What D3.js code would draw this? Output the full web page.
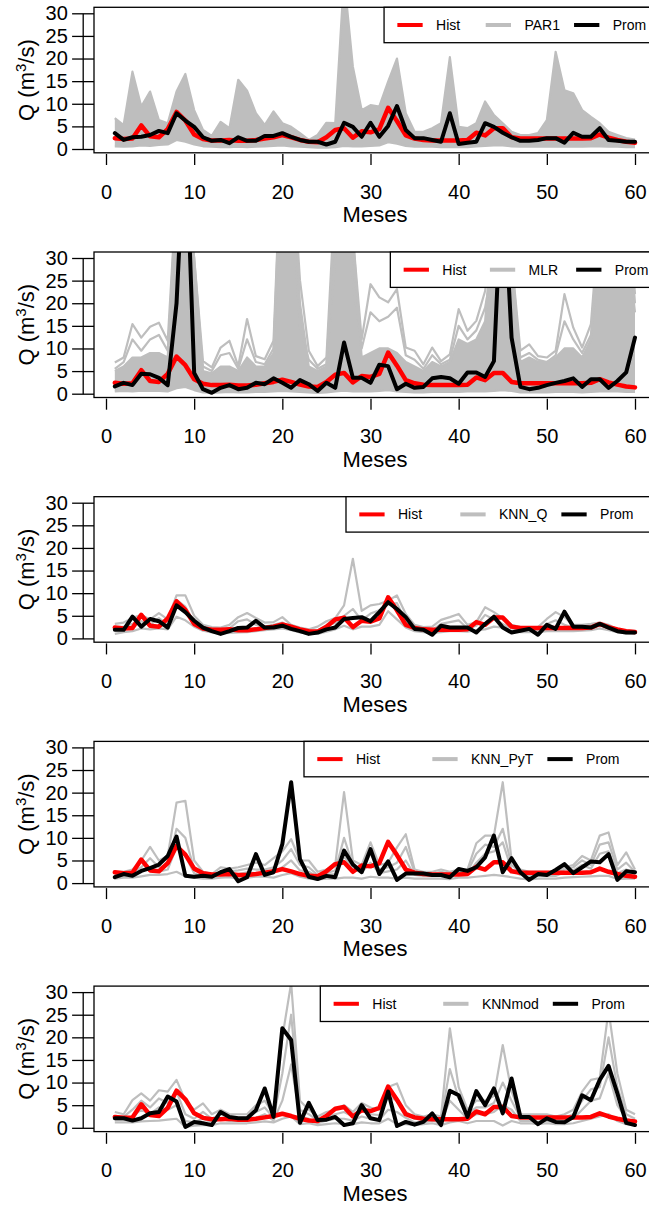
<!DOCTYPE html>
<html>
<head>
<meta charset="utf-8">
<script src="https://cdn.jsdelivr.net/npm/d3@7"></script>
<style>
  body { margin: 0; background: #fff; }
  text { font-family: "Liberation Sans", Arial, Helvetica, sans-serif; fill: #000; }
</style>
</head>
<body>
<svg id="chart" width="649" height="1212"></svg>
<script>
// ---- data: monthly flows Q (m3/s), months 1..60 ----
const months = d3.range(1, 61);
const xTicks = [0, 10, 20, 30, 40, 50, 60];
const yTicks = [0, 5, 10, 15, 20, 25, 30];
const seriesNames = ["Hist", null, "Prom"];
const modelNames = ["PAR1", "MLR", "KNN_Q", "KNN_PyT", "KNNmod"];

// historical mean flow (same in every panel)
const hist = [2.4,2.2,2.3,5.2,2.8,2.6,4.4,8.2,6.3,3.2,2.2,1.9,1.9,2.0,1.8,1.8,2.0,2.3,2.6,3.1,2.6,2.0,1.6,1.5,2.6,4.2,4.6,2.5,3.9,3.7,4.4,9.1,6.2,3.0,2.3,2.0,1.9,1.9,1.9,1.9,2.0,3.6,3.0,4.6,4.6,2.6,2.3,2.3,2.3,2.3,2.3,2.3,2.3,2.3,2.4,3.2,2.5,2.0,1.6,1.4];

// PAR1
const parProm = [3.5,2.0,2.6,2.7,3.1,4.0,3.5,7.9,6.3,4.9,2.6,1.8,2.0,1.3,2.6,1.8,1.8,2.9,2.9,3.5,2.7,2.0,1.6,1.6,1.0,1.6,5.8,4.9,2.7,5.8,2.7,5.1,9.5,4.2,2.4,2.4,2.0,1.6,7.9,1.1,1.4,1.6,5.7,4.9,3.6,2.6,1.8,1.8,2.0,2.4,2.4,1.4,3.6,2.7,2.7,4.6,2.0,1.8,1.6,1.6];
const parHigh = [6.8,5.3,17.1,9.4,12.7,6.4,5.7,12.7,16.6,8.6,4.2,2.9,6.0,4.6,15.3,12.9,7.9,5.3,8.3,5.7,4.9,3.5,2.0,3.1,5.8,5.7,38,18.2,8.6,9.7,9.4,14.9,20.0,7.9,3.8,3.8,4.6,5.7,20.3,4.9,4.6,5.7,10.5,7.5,5.7,3.8,3.1,3.1,3.5,6.4,21.5,13.0,12.3,8.6,7.1,5.7,3.8,3.1,2.4,2.1];
const parLow = [0.6,0.5,0.6,0.8,0.7,0.9,1.0,2.0,1.6,1.0,0.6,0.5,0.4,0.4,0.5,0.4,0.5,0.6,0.7,0.8,0.6,0.5,0.4,0.3,0.3,0.4,0.7,0.6,0.6,0.7,0.8,1.5,1.2,0.7,0.5,0.5,0.5,0.4,0.4,0.4,0.4,0.6,0.7,0.8,0.8,0.6,0.5,0.5,0.5,0.5,0.5,0.5,0.5,0.5,0.6,0.6,0.5,0.5,0.4,0.4];

// MLR
const mlrProm = [1.6,2.4,1.9,4.4,4.3,3.5,1.9,20,60,4.6,1.0,0.2,1.3,1.9,1.0,1.3,2.4,2.1,3.4,2.4,1.3,3.0,2.1,0.6,2.4,1.3,11.3,3.5,3.5,2.4,6.4,6.1,1.0,2.2,1.3,1.5,3.4,3.7,3.4,2.2,4.7,4.7,3.7,7.2,50,12.4,1.5,1.0,1.3,1.9,2.4,2.8,3.4,1.5,3.2,3.2,1.3,2.8,4.7,12.4];
const mlrHigh = [6.9,8.0,15.4,12.4,14.8,15.7,11.7,45,50,30,7.2,5.8,10.2,11.7,6.1,16.5,8.3,7.6,11.7,60,55,25.1,9.5,6.1,8.0,45,50,35,12,24.2,21.3,20.2,23.1,10.2,9.5,6.5,10.2,7.2,8.7,18.7,13.9,16.1,22.7,40,55,30,9.5,10.9,8.3,8.0,9.5,22.0,14.6,10.2,15.4,40,50,50,45,22.0];
const mlrMid = [5.5,7.0,12.0,9.5,12.0,13.0,9.5,40,45,20,6.0,5.0,8.5,9.0,5.5,12.0,7.0,6.5,10.0,50,45,15.0,7.5,5.5,6.5,30,45,25,10,18.0,16.0,17.0,19.0,8.5,7.5,5.5,8.5,6.5,7.5,15.0,12.0,14.0,19.0,30,45,20,8.0,9.0,7.5,7.0,8.5,16.0,12.0,9.0,13.0,30,45,45,35,18.0];
const mlrDense = [5.0,6.0,8.0,8.0,9.0,9.0,8.0,45,50,30,5.0,4.5,6.0,6.0,5.0,8.0,6.0,6.0,9.0,60,55,20,6.0,5.0,6.0,40,50,35,8.0,9.0,10.0,10.0,9.0,7.0,6.0,5.0,7.0,6.0,7.0,12.0,11.0,12.0,16.0,40,55,30,7.0,8.0,7.0,7.0,8.0,10.0,10.0,8.0,12.0,40,50,50,45,20.0];
const mlrLow = [0.5,0.6,0.5,0.7,0.6,0.6,0.5,1.2,1.5,0.8,0.3,0.2,0.3,0.4,0.3,0.3,0.4,0.4,0.5,0.6,0.5,0.4,0.3,0.2,0.3,0.5,0.7,0.5,0.5,0.5,0.6,0.8,0.5,0.4,0.3,0.3,0.4,0.4,0.4,0.4,0.5,0.5,0.5,0.6,0.8,0.6,0.3,0.3,0.3,0.3,0.4,0.4,0.4,0.3,0.4,0.5,0.5,0.5,0.4,0.4];

// KNN_Q
const knnqProm = [1.9,1.9,4.8,2.6,4.3,3.8,2.4,7.3,5.8,3.9,2.4,1.6,1.0,1.6,2.3,2.4,3.9,2.4,2.4,2.8,2.1,1.6,1.0,1.3,2.0,2.4,4.3,4.5,4.7,3.8,5.8,8.0,6.5,4.7,2.1,1.9,0.8,2.8,2.4,2.4,2.4,1.3,3.2,4.8,2.4,1.3,1.7,2.1,0.8,3.0,2.1,5.9,2.6,2.6,2.4,3.2,2.4,1.6,1.3,1.3];
const knnqHigh = [3.2,3.5,4.5,5.2,4.2,5.6,4.2,9.5,9.5,5.0,3.0,2.5,2.4,3.0,4.7,5.6,4.5,3.5,3.6,4.7,3.0,2.4,2.0,2.6,3.8,4.5,7.3,17.6,6.1,7.3,7.6,8.4,9.5,5.4,3.0,2.5,2.6,4.1,4.7,5.4,3.0,3.6,6.9,5.8,4.5,3.0,2.5,2.4,2.5,4.3,5.8,4.7,3.0,3.0,3.2,3.5,3.0,2.0,1.8,1.6];
const knnqMid = [2.5,2.6,3.2,3.8,3.0,4.5,3.0,8.5,7.0,3.5,2.2,1.8,1.7,2.2,3.8,4.2,3.0,2.6,3.0,3.5,2.4,1.8,1.5,1.8,2.8,3.4,5.0,6.5,4.0,5.5,6.2,7.5,7.8,3.8,2.2,1.9,1.8,3.2,3.6,4.0,2.2,2.8,5.2,4.2,3.2,2.2,1.9,1.8,1.9,3.2,4.0,3.0,2.4,2.4,2.6,3.0,2.5,1.7,1.5,1.3];
const knnqLow = [1.0,1.4,1.6,2.2,2.0,2.2,2.0,4.8,4.0,2.6,1.7,1.3,1.1,1.2,1.3,1.4,1.6,1.8,2.0,2.2,1.8,1.3,1.0,1.0,1.5,2.0,2.8,2.0,2.6,2.6,3.0,6.0,4.2,2.4,1.6,1.4,1.2,1.4,1.6,1.6,1.5,1.8,2.0,2.6,2.4,1.6,1.4,1.4,1.4,1.6,1.6,1.6,1.6,1.7,1.8,2.2,1.8,1.4,1.1,1.0];

// KNN_PyT
const pytProm = [1.3,2.0,1.6,2.7,3.3,4.1,6.0,10.3,1.6,1.4,1.6,1.4,2.4,3.1,0.4,1.3,6.4,1.8,2.4,8.6,22.3,5.3,1.4,0.9,1.6,1.3,7.2,4.1,2.4,7.5,2.0,4.8,0.7,2.1,2.1,2.1,1.8,1.8,1.3,3.1,2.7,3.5,5.7,10.5,2.4,5.5,2.4,0.7,2.0,1.8,2.9,4.2,2.2,3.5,4.8,4.6,6.4,0.7,2.6,2.4];
const pytHigh = [2.5,2.5,3.0,5.0,8.0,5.0,6.0,17.8,18.2,5.0,2.5,2.0,3.5,3.2,3.5,4.0,4.5,4.0,5.5,7.0,9.7,5.0,5.0,2.5,3.0,4.0,20.1,5.0,4.0,9.0,4.0,4.5,7.9,10.8,3.0,2.5,2.5,3.0,2.5,3.0,3.0,8.8,10.5,10.5,22.3,5.0,3.0,2.5,2.5,2.5,2.5,3.5,4.0,6.0,5.0,10.5,11.2,4.0,6.8,3.0];
const pytMidA = [1.8,2.0,2.4,3.5,5.5,3.5,4.0,12.0,10.0,3.0,1.8,1.5,2.5,2.6,2.8,3.2,3.0,3.0,3.5,5.0,7.5,4.0,3.5,1.8,2.2,2.8,10.0,4.0,3.0,6.5,3.0,3.5,4.5,8.0,2.4,2.0,2.0,2.5,2.0,2.5,2.5,6.5,8.5,8.0,12.0,4.0,2.4,2.0,2.0,2.0,2.0,3.0,3.5,5.0,4.0,8.5,9.0,3.0,4.5,2.5];
const pytMidB = [1.5,1.6,2.0,2.5,3.5,2.5,3.0,8.0,6.0,2.2,1.4,1.3,2.0,2.0,2.0,2.4,2.2,2.2,2.5,3.5,5.0,2.8,2.5,1.4,1.8,2.0,6.0,3.0,2.4,4.5,2.2,2.6,3.0,5.0,1.8,1.6,1.6,2.0,1.6,2.0,2.0,4.5,6.5,7.0,9.0,3.0,1.8,1.6,1.6,1.6,1.6,2.4,2.8,4.0,3.2,6.5,7.0,2.2,3.0,2.0];
const pytLow = [1.0,1.2,1.2,1.5,1.8,1.8,2.0,2.5,1.5,1.2,1.0,1.0,1.2,1.3,1.0,1.2,1.4,1.4,1.2,1.8,2.2,1.4,1.0,0.8,1.0,1.0,1.2,1.2,1.0,1.4,1.2,1.2,1.0,1.2,1.0,1.0,1.0,1.0,0.9,1.2,1.2,1.4,1.6,1.8,1.6,1.3,1.0,0.8,1.0,1.0,1.0,1.2,1.3,1.4,1.5,1.6,1.6,0.9,1.0,1.0];

// KNNmod
const modProm = [2.1,2.1,1.6,2.1,3.2,3.5,6.9,5.8,0.2,1.3,1.0,0.6,3.5,2.4,2.1,2.1,3.9,8.7,2.4,22.0,19.4,1.1,5.5,1.7,1.8,2.4,0.6,1.0,5.0,2.1,1.7,8.0,0.4,1.3,0.7,1.3,3.2,0.6,8.2,7.2,2.4,8.1,5.0,8.7,3.2,10.9,2.4,2.4,0.8,2.1,1.3,1.2,2.4,7.2,6.1,10.6,13.7,7.6,1.1,0.6];
const modHigh = [3.5,3.0,6.1,7.6,6.0,8.3,8.0,10.6,6.0,4.0,5.4,3.0,4.0,3.0,3.0,3.0,5.0,6.0,3.0,20.0,32.0,6.0,4.0,2.5,3.5,4.0,5.0,3.5,5.5,4.5,4.0,9.0,9.8,5.0,3.0,2.5,3.0,2.5,22.0,9.0,4.0,6.0,6.0,7.0,18.3,8.0,3.0,3.0,3.0,3.0,2.5,3.0,4.0,8.0,10.6,11.0,26.0,12.0,4.0,3.0];
const modMidA = [2.5,2.4,4.0,6.0,4.5,6.5,5.5,8.0,3.0,2.0,3.5,2.0,3.0,2.2,2.2,2.2,3.5,4.5,2.2,12.0,25.0,4.0,3.0,1.6,2.5,3.0,3.5,2.5,4.0,3.0,2.8,7.0,6.0,3.5,2.0,1.8,2.2,1.8,13.0,6.5,3.0,4.5,4.5,5.5,10.0,6.0,2.2,2.2,2.0,2.2,1.8,2.2,3.0,6.0,8.5,9.0,20.0,9.0,3.0,2.0];
const modMidB = [1.8,1.8,2.5,4.0,3.0,4.5,4.0,5.0,1.5,1.2,2.0,1.2,2.0,1.5,1.5,1.5,2.2,3.0,1.6,6.0,14.0,2.5,2.0,1.0,1.6,2.0,2.0,1.6,2.5,2.0,1.8,4.0,3.5,2.2,1.2,1.2,1.6,1.2,6.0,4.0,2.0,3.0,3.0,3.5,5.0,4.0,1.5,1.5,1.3,1.5,1.2,1.5,2.0,4.0,6.0,6.5,12.0,5.0,2.0,1.2];
const modLow = [1.2,1.2,1.2,1.4,1.5,1.6,1.8,2.0,0.2,0.5,0.6,0.6,1.0,1.0,1.0,1.0,1.2,1.4,1.2,2.0,2.5,0.8,1.0,0.6,0.8,1.0,0.8,0.8,1.2,1.0,1.0,2.0,0.8,0.8,0.6,0.8,1.0,0.6,1.2,1.5,1.0,1.5,1.5,1.5,0.5,1.5,1.0,1.0,0.8,1.0,0.8,0.8,1.0,1.5,2.0,2.5,3.0,1.5,0.8,0.6];

// panel definitions: band = dense part of the ensemble drawn as a filled envelope
const panels = [
  { model: modelNames[0], prom: parProm,  band: [parLow, parHigh], members: [parHigh, parLow] },
  { model: modelNames[1], prom: mlrProm,  band: [mlrLow, mlrDense], members: [mlrHigh, mlrMid, mlrDense, mlrLow] },
  { model: modelNames[2], prom: knnqProm, band: null, members: [knnqHigh, knnqMid, knnqLow] },
  { model: modelNames[3], prom: pytProm,  band: null, members: [pytHigh, pytMidA, pytMidB, pytLow] },
  { model: modelNames[4], prom: modProm,  band: null, members: [modHigh, modMidA, modMidB, modLow] }
];

// ---- layout ----
const svg = d3.select("#chart");
const panelStep = 244.7;
const boxL = 94, boxR = 656;
const boxTop = 7.3, boxBot = 152.8;
const RED = "#FF0000", GREY = "#BEBEBE", BLACK = "#000000";

const x = d3.scaleLinear().domain([0, 60]).range([106, 635]);

panels.forEach((p, i) => {
  const off = i * panelStep;
  const g = svg.append("g").attr("transform", `translate(0,${off})`);
  const y = d3.scaleLinear().domain([0, 30]).range([149, 13.3]);

  const clipId = "clip" + i;
  g.append("clipPath").attr("id", clipId)
    .append("rect").attr("x", boxL).attr("y", boxTop)
    .attr("width", boxR - boxL).attr("height", boxBot - boxTop);

  const plot = g.append("g").attr("clip-path", `url(#${clipId})`);
  const line = d3.line().x((d, k) => x(months[k])).y(d => y(d));

  // ensemble envelope
  if (p.band) {
    const area = d3.area()
      .x((d, k) => x(months[k]))
      .y0((d, k) => y(p.band[0][k]))
      .y1((d, k) => y(p.band[1][k]));
    plot.append("path").datum(months).attr("d", area).attr("fill", GREY);
  }
  plot.selectAll("path.member").data(p.members).join("path")
    .attr("class", "member")
    .attr("d", line)
    .attr("fill", "none").attr("stroke", GREY).attr("stroke-width", 2.2)
    .attr("stroke-linejoin", "round");

  plot.append("path").datum(hist).attr("d", line)
    .attr("fill", "none").attr("stroke", RED).attr("stroke-width", 4.5)
    .attr("stroke-linejoin", "round").attr("stroke-linecap", "round");
  plot.append("path").datum(p.prom).attr("d", line)
    .attr("fill", "none").attr("stroke", BLACK).attr("stroke-width", 4)
    .attr("stroke-linejoin", "round").attr("stroke-linecap", "round");

  // frame
  g.append("rect").attr("x", boxL).attr("y", boxTop)
    .attr("width", boxR - boxL).attr("height", boxBot - boxTop)
    .attr("fill", "none").attr("stroke", BLACK).attr("stroke-width", 1.3);

  // y axis
  const ya = g.append("g").attr("transform", "translate(82.7,0)")
    .call(d3.axisLeft(y).tickValues(yTicks).tickSize(10.6).tickSizeOuter(0).tickPadding(4.3));
  ya.select(".domain").attr("stroke-width", 1.3);
  ya.selectAll(".tick line").attr("x1", boxL - 82.7).attr("stroke-width", 1.3);
  ya.selectAll(".tick text").attr("font-size", 20)
    .attr("font-family", '"Liberation Sans", Arial, sans-serif').attr("fill", BLACK);

  // x axis
  const xa = g.append("g").attr("transform", "translate(0,154)")
    .call(d3.axisBottom(x).tickValues(xTicks).tickSize(11).tickPadding(19.5));
  xa.select(".domain").remove();
  xa.selectAll(".tick line").attr("stroke-width", 1.3);
  xa.selectAll(".tick text").attr("font-size", 20)
    .attr("font-family", '"Liberation Sans", Arial, sans-serif').attr("fill", BLACK);

  // axis titles
  g.append("text").attr("x", (boxL + boxR) / 2).attr("y", 222.3)
    .attr("text-anchor", "middle").attr("font-size", 22).text("Meses");
  const yl = g.append("text")
    .attr("transform", `translate(33.5,${(boxTop + boxBot) / 2}) rotate(-90)`)
    .attr("text-anchor", "middle").attr("font-size", 22);
  yl.append("tspan").text("Q (m");
  yl.append("tspan").attr("font-size", 15).attr("dy", -8).text("3");
  yl.append("tspan").attr("dy", 8).text("/s)");

  // legend (horizontal, top right)
  const labels = [seriesNames[0], p.model, seriesNames[2]];
  const colors = [RED, GREY, BLACK];
  const lg = g.append("g");
  const box = lg.append("rect");
  const tmp = lg.selectAll("text.tmp").data(labels).join("text")
    .attr("font-size", 14).text(d => d);
  const maxw = d3.max(tmp.nodes(), n => n.getComputedTextLength());
  tmp.remove();
  const colW = maxw + 52.8;
  const textEnd = 648.3;
  const starts = labels.map((d, k) => textEnd - maxw - (labels.length - 1 - k) * colW);
  const lh = 35.4, cy = boxTop + lh / 2;
  box.attr("x", starts[0] - 52).attr("y", boxTop)
    .attr("width", boxR - (starts[0] - 52)).attr("height", lh)
    .attr("fill", "#fff").attr("stroke", BLACK).attr("stroke-width", 1.3);
  labels.forEach((d, k) => {
    lg.append("line").attr("x1", starts[k] - 38.7).attr("x2", starts[k] - 13.4)
      .attr("y1", cy).attr("y2", cy)
      .attr("stroke", colors[k]).attr("stroke-width", 4);
    lg.append("text").attr("x", starts[k]).attr("y", cy).attr("dy", "0.36em")
      .attr("font-size", 14).text(d);
  });
});
</script>
</body>
</html>
